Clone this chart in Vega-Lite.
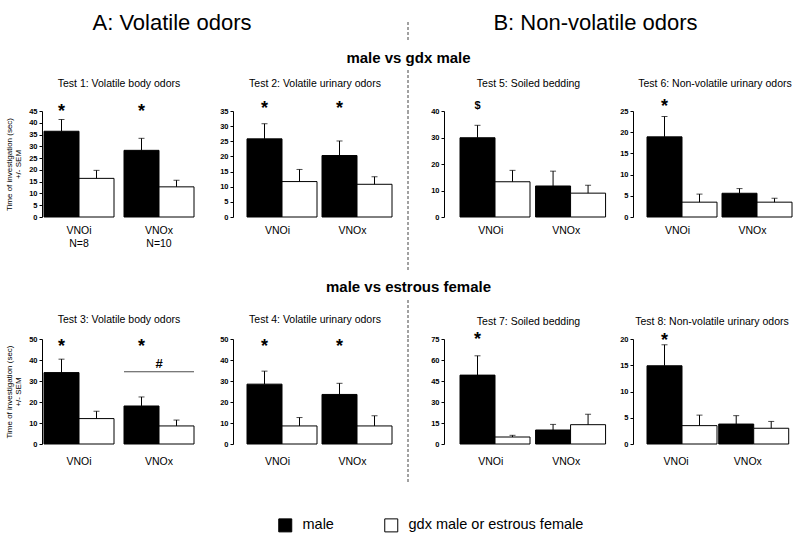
{
  "$schema": "https://vega.github.io/schema/vega-lite/v6.json",
  "background": "white",
  "padding": {"left": 5, "top": 12, "right": 4, "bottom": 0},
  "config": {
    "font": "Liberation Sans",
    "view": {"stroke": null},
    "axis": {"labelOverlap": false},
    "axisY": {"tickSize": 3, "labelFontSize": 7.5, "labelFontWeight": "bold", "labelOverlap": false, "grid": false, "domainColor": "black", "tickColor": "black", "labelColor": "black", "labelPadding": 2, "titleFontSize": 8, "titleFontWeight": "normal", "titleColor": "black", "titlePadding": 6, "titleLineHeight": 9},
    "axisX": {"domain": false, "ticks": false, "labelAngle": 0, "labelFontSize": 10.5, "labelColor": "black", "labelPadding": 8, "grid": false},
    "title": {"fontSize": 10.5, "fontWeight": "normal", "color": "black", "anchor": "middle", "frame": "group", "baseline": "alphabetic"},
    "legend": {"symbolType": "square", "symbolSize": 169, "labelFontSize": 14.5, "labelLimit": 0, "labelColor": "black", "symbolStrokeColor": "black", "symbolStrokeWidth": 1, "labelOffset": 10, "columnPadding": 48, "padding": 0}
  },
  "datasets": {
    "bars": [
      {"test": "Test 1", "group": "VNOi", "sex": "male", "mean": 36.4, "upper": 41.4},
      {"test": "Test 1", "group": "VNOi", "sex": "gdx male or estrous female", "mean": 16.4, "upper": 19.8},
      {"test": "Test 1", "group": "VNOx", "sex": "male", "mean": 28.3, "upper": 33.4},
      {"test": "Test 1", "group": "VNOx", "sex": "gdx male or estrous female", "mean": 12.8, "upper": 15.6},
      {"test": "Test 2", "group": "VNOi", "sex": "male", "mean": 25.8, "upper": 30.8},
      {"test": "Test 2", "group": "VNOi", "sex": "gdx male or estrous female", "mean": 11.7, "upper": 15.7},
      {"test": "Test 2", "group": "VNOx", "sex": "male", "mean": 20.3, "upper": 25.1},
      {"test": "Test 2", "group": "VNOx", "sex": "gdx male or estrous female", "mean": 10.8, "upper": 13.3},
      {"test": "Test 5", "group": "VNOi", "sex": "male", "mean": 29.9, "upper": 34.6},
      {"test": "Test 5", "group": "VNOi", "sex": "gdx male or estrous female", "mean": 13.3, "upper": 17.6},
      {"test": "Test 5", "group": "VNOx", "sex": "male", "mean": 11.7, "upper": 17.3},
      {"test": "Test 5", "group": "VNOx", "sex": "gdx male or estrous female", "mean": 9.0, "upper": 12.0},
      {"test": "Test 6", "group": "VNOi", "sex": "male", "mean": 18.9, "upper": 23.7},
      {"test": "Test 6", "group": "VNOi", "sex": "gdx male or estrous female", "mean": 3.5, "upper": 5.4},
      {"test": "Test 6", "group": "VNOx", "sex": "male", "mean": 5.6, "upper": 6.7},
      {"test": "Test 6", "group": "VNOx", "sex": "gdx male or estrous female", "mean": 3.5, "upper": 4.4},
      {"test": "Test 3", "group": "VNOi", "sex": "male", "mean": 34.0, "upper": 40.4},
      {"test": "Test 3", "group": "VNOi", "sex": "gdx male or estrous female", "mean": 12.1, "upper": 15.6},
      {"test": "Test 3", "group": "VNOx", "sex": "male", "mean": 18.1, "upper": 22.4},
      {"test": "Test 3", "group": "VNOx", "sex": "gdx male or estrous female", "mean": 8.6, "upper": 11.4},
      {"test": "Test 4", "group": "VNOi", "sex": "male", "mean": 28.5, "upper": 34.7},
      {"test": "Test 4", "group": "VNOi", "sex": "gdx male or estrous female", "mean": 8.6, "upper": 12.6},
      {"test": "Test 4", "group": "VNOx", "sex": "male", "mean": 23.6, "upper": 28.9},
      {"test": "Test 4", "group": "VNOx", "sex": "gdx male or estrous female", "mean": 8.6, "upper": 13.4},
      {"test": "Test 7", "group": "VNOi", "sex": "male", "mean": 49.2, "upper": 63.0},
      {"test": "Test 7", "group": "VNOi", "sex": "gdx male or estrous female", "mean": 5.0, "upper": 6.2},
      {"test": "Test 7", "group": "VNOx", "sex": "male", "mean": 10.0, "upper": 14.0},
      {"test": "Test 7", "group": "VNOx", "sex": "gdx male or estrous female", "mean": 13.8, "upper": 21.2},
      {"test": "Test 8", "group": "VNOi", "sex": "male", "mean": 14.9, "upper": 18.9},
      {"test": "Test 8", "group": "VNOi", "sex": "gdx male or estrous female", "mean": 3.5, "upper": 5.5},
      {"test": "Test 8", "group": "VNOx", "sex": "male", "mean": 3.8, "upper": 5.4},
      {"test": "Test 8", "group": "VNOx", "sex": "gdx male or estrous female", "mean": 3.0, "upper": 4.3}
    ],
    "marks": [
      {"test": "Test 1", "group": "VNOi", "sex": "male", "sym": "*", "pos": 46.4},
      {"test": "Test 1", "group": "VNOx", "sex": "male", "sym": "*", "pos": 46.4},
      {"test": "Test 2", "group": "VNOi", "sex": "male", "sym": "*", "pos": 36.9},
      {"test": "Test 2", "group": "VNOx", "sex": "male", "sym": "*", "pos": 36.9},
      {"test": "Test 5", "group": "VNOi", "sex": "male", "sym": "$", "pos": 41.8},
      {"test": "Test 6", "group": "VNOi", "sex": "male", "sym": "*", "pos": 27.0},
      {"test": "Test 3", "group": "VNOi", "sex": "male", "sym": "*", "pos": 48.3},
      {"test": "Test 3", "group": "VNOx", "sex": "male", "sym": "*", "pos": 48.3},
      {"test": "Test 4", "group": "VNOi", "sex": "male", "sym": "*", "pos": 48.3},
      {"test": "Test 4", "group": "VNOx", "sex": "male", "sym": "*", "pos": 48.3},
      {"test": "Test 7", "group": "VNOi", "sex": "male", "sym": "*", "pos": 77.4},
      {"test": "Test 8", "group": "VNOi", "sex": "male", "sym": "*", "pos": 20.4}
    ],
    "gmarks": [
      {"test": "Test 3", "group": "VNOx", "line": 34.4, "sym": "#", "pos": 37.9}
    ]
  },
  "bounds": "flush",
  "spacing": {"row": 0, "column": 0},
  "columns": 9,
  "concat": [
    {"width": 150, "height": 18, "data": {"values": [{"label": "A: Volatile odors"}]}, "mark": {"type": "text", "fontSize": 22, "baseline": "alphabetic", "dx": 53, "dy": -1, "color": "black"}, "encoding": {"text": {"field": "label"}}},
    {"width": 53, "height": 18, "data": {"values": []}, "mark": "text", "encoding": {}},
    {"width": 136, "height": 18, "data": {"values": []}, "mark": "text", "encoding": {}},
    {"width": 25, "height": 18, "data": {"values": []}, "mark": "text", "encoding": {}},
    {"width": 1, "height": 18, "data": {"values": [{}]}, "mark": {"type": "rule", "color": "#444444", "strokeDash": [3, 2], "strokeWidth": 1}, "encoding": {"x": {"value": 0}}},
    {"width": 51, "height": 18, "data": {"values": []}, "mark": "text", "encoding": {}},
    {"width": 137, "height": 18, "data": {"values": [{"label": "B: Non-volatile odors"}]}, "mark": {"type": "text", "fontSize": 22, "baseline": "alphabetic", "dx": 67, "dy": -1, "color": "black"}, "encoding": {"text": {"field": "label"}}},
    {"width": 50, "height": 18, "data": {"values": []}, "mark": "text", "encoding": {}},
    {"width": 136, "height": 18, "data": {"values": []}, "mark": "text", "encoding": {}},

    {"width": 150, "height": 30, "data": {"values": []}, "mark": "text", "encoding": {}},
    {"width": 53, "height": 30, "data": {"values": []}, "mark": "text", "encoding": {}},
    {"width": 136, "height": 30, "data": {"values": []}, "mark": "text", "encoding": {}},
    {"width": 25, "height": 30, "data": {"values": []}, "mark": "text", "encoding": {}},
    {"width": 1, "height": 30, "data": {"values": []}, "mark": "text", "encoding": {}},
    {"width": 51, "height": 30, "data": {"values": []}, "mark": "text", "encoding": {}},
    {"width": 137, "height": 30, "data": {"values": []}, "mark": "text", "encoding": {}},
    {"width": 50, "height": 30, "data": {"values": []}, "mark": "text", "encoding": {}},
    {"width": 136, "height": 30, "data": {"values": []}, "mark": "text", "encoding": {}},

    {"width": 150, "height": 41, "data": {"values": []}, "mark": "text", "encoding": {}},
    {"width": 53, "height": 41, "data": {"values": []}, "mark": "text", "encoding": {}},
    {"width": 136, "height": 41, "data": {"values": []}, "mark": "text", "encoding": {}},
    {"width": 25, "height": 41, "data": {"values": []}, "mark": "text", "encoding": {}},
    {"width": 1, "height": 41, "title": {"text": "male vs gdx male", "fontSize": 15, "fontWeight": "bold", "offset": 4}, "data": {"values": [{}]}, "mark": {"type": "rule", "color": "#444444", "strokeDash": [3, 2], "strokeWidth": 1}, "encoding": {"x": {"value": 0}}},
    {"width": 51, "height": 41, "data": {"values": []}, "mark": "text", "encoding": {}},
    {"width": 137, "height": 41, "data": {"values": []}, "mark": "text", "encoding": {}},
    {"width": 50, "height": 41, "data": {"values": []}, "mark": "text", "encoding": {}},
    {"width": 136, "height": 41, "data": {"values": []}, "mark": "text", "encoding": {}},

    {
      "width": 150, "height": 106,
      "title": {"text": "Test 1: Volatile body odors", "offset": 13},
      "data": {"name": "bars"},
      "transform": [{"filter": "datum.test == 'Test 1'"}],
      "encoding": {"x": {"field": "group", "type": "nominal", "title": null, "scale": {"domain": ["VNOi", "VNOx"], "paddingInner": 0.125, "paddingOuter": 0}, "axis": {"labelExpr": "datum.value == 'VNOi' ? ['VNOi', 'N=8'] : ['VNOx', 'N=10']", "labelLineHeight": 13}}},
      "layer": [
        {"mark": {"type": "bar", "stroke": "black", "strokeWidth": 1}, "encoding": {"xOffset": {"field": "sex", "type": "nominal", "scale": {"domain": ["male", "gdx male or estrous female"], "paddingInner": 0, "paddingOuter": 0}}, "y": {"field": "mean", "type": "quantitative", "scale": {"domain": [0, 45], "nice": false}, "axis": {"values": [0, 5, 10, 15, 20, 25, 30, 35, 40, 45], "labelOverlap": false, "offset": 2, "title": ["Time of investigation (sec)", "+/- SEM"]}}, "fill": {"field": "sex", "type": "nominal", "scale": {"domain": ["male", "gdx male or estrous female"], "range": ["black", "white"]}, "legend": {"orient": "none", "legendX": 234, "legendY": 496, "direction": "horizontal", "title": null}}}},
        {"mark": {"type": "rule", "color": "black", "strokeWidth": 1}, "encoding": {"xOffset": {"field": "sex", "type": "nominal"}, "y": {"field": "mean", "type": "quantitative", "axis": {"values": [0, 5, 10, 15, 20, 25, 30, 35, 40, 45], "labelOverlap": false, "offset": 2, "title": ["Time of investigation (sec)", "+/- SEM"]}}, "y2": {"field": "upper"}}},
        {"mark": {"type": "tick", "color": "black", "orient": "horizontal", "size": 6, "thickness": 1}, "encoding": {"xOffset": {"field": "sex", "type": "nominal"}, "y": {"field": "upper", "type": "quantitative", "axis": {"values": [0, 5, 10, 15, 20, 25, 30, 35, 40, 45], "labelOverlap": false, "offset": 2, "title": ["Time of investigation (sec)", "+/- SEM"]}}}},
        {"data": {"name": "marks"}, "transform": [{"filter": "datum.test == 'Test 1'"}], "mark": {"type": "text", "fontSize": 18, "fontWeight": "bold", "baseline": "middle", "dy": 4, "color": "black"}, "encoding": {"xOffset": {"field": "sex", "type": "nominal"}, "y": {"field": "pos", "type": "quantitative", "axis": {"values": [0, 5, 10, 15, 20, 25, 30, 35, 40, 45], "labelOverlap": false, "offset": 2, "title": ["Time of investigation (sec)", "+/- SEM"]}}, "text": {"field": "sym"}}}
      ]
    },
    {"width": 53, "height": 106, "data": {"values": []}, "mark": "text", "encoding": {}},
    {
      "width": 136, "height": 106,
      "title": {"text": "Test 2: Volatile urinary odors", "offset": 11},
      "data": {"name": "bars"},
      "transform": [{"filter": "datum.test == 'Test 2'"}],
      "encoding": {"x": {"field": "group", "type": "nominal", "title": null, "scale": {"domain": ["VNOi", "VNOx"], "paddingInner": 0.187, "paddingOuter": 0}}},
      "layer": [
        {"mark": {"type": "bar", "stroke": "black", "strokeWidth": 1}, "encoding": {"xOffset": {"field": "sex", "type": "nominal", "scale": {"domain": ["male", "gdx male or estrous female"], "paddingInner": 0, "paddingOuter": 0}}, "y": {"field": "mean", "type": "quantitative", "scale": {"domain": [0, 35], "nice": false}, "axis": {"values": [0, 5, 10, 15, 20, 25, 30, 35], "labelOverlap": false, "offset": 14, "title": null}}, "fill": {"field": "sex", "type": "nominal", "legend": null}}},
        {"mark": {"type": "rule", "color": "black", "strokeWidth": 1}, "encoding": {"xOffset": {"field": "sex", "type": "nominal"}, "y": {"field": "mean", "type": "quantitative", "axis": {"values": [0, 5, 10, 15, 20, 25, 30, 35], "labelOverlap": false, "offset": 14, "title": null}}, "y2": {"field": "upper"}}},
        {"mark": {"type": "tick", "color": "black", "orient": "horizontal", "size": 6, "thickness": 1}, "encoding": {"xOffset": {"field": "sex", "type": "nominal"}, "y": {"field": "upper", "type": "quantitative", "axis": {"values": [0, 5, 10, 15, 20, 25, 30, 35], "labelOverlap": false, "offset": 14, "title": null}}}},
        {"data": {"name": "marks"}, "transform": [{"filter": "datum.test == 'Test 2'"}], "mark": {"type": "text", "fontSize": 18, "fontWeight": "bold", "baseline": "middle", "dy": 4, "color": "black"}, "encoding": {"xOffset": {"field": "sex", "type": "nominal"}, "y": {"field": "pos", "type": "quantitative", "axis": {"values": [0, 5, 10, 15, 20, 25, 30, 35], "labelOverlap": false, "offset": 14, "title": null}}, "text": {"field": "sym"}}}
      ]
    },
    {"width": 25, "height": 106, "data": {"values": []}, "mark": "text", "encoding": {}},
    {"width": 1, "height": 106, "data": {"values": [{}]}, "mark": {"type": "rule", "color": "#444444", "strokeDash": [3, 2], "strokeWidth": 1}, "encoding": {"x": {"value": 0}}},
    {"width": 51, "height": 106, "data": {"values": []}, "mark": "text", "encoding": {}},
    {
      "width": 137, "height": 106,
      "title": {"text": "Test 5: Soiled bedding", "offset": 11},
      "data": {"name": "bars"},
      "transform": [{"filter": "datum.test == 'Test 5'"}],
      "encoding": {"x": {"field": "group", "type": "nominal", "title": null, "scale": {"domain": ["VNOi", "VNOx"], "paddingInner": 0.187, "paddingOuter": 0}}},
      "layer": [
        {"mark": {"type": "bar", "stroke": "black", "strokeWidth": 1}, "encoding": {"xOffset": {"field": "sex", "type": "nominal", "scale": {"domain": ["male", "gdx male or estrous female"], "paddingInner": 0, "paddingOuter": 0}}, "y": {"field": "mean", "type": "quantitative", "scale": {"domain": [0, 40], "nice": false}, "axis": {"values": [0, 10, 20, 30, 40], "labelOverlap": false, "offset": 16, "title": null}}, "fill": {"field": "sex", "type": "nominal", "legend": null}}},
        {"mark": {"type": "rule", "color": "black", "strokeWidth": 1}, "encoding": {"xOffset": {"field": "sex", "type": "nominal"}, "y": {"field": "mean", "type": "quantitative", "axis": {"values": [0, 10, 20, 30, 40], "labelOverlap": false, "offset": 16, "title": null}}, "y2": {"field": "upper"}}},
        {"mark": {"type": "tick", "color": "black", "orient": "horizontal", "size": 6, "thickness": 1}, "encoding": {"xOffset": {"field": "sex", "type": "nominal"}, "y": {"field": "upper", "type": "quantitative", "axis": {"values": [0, 10, 20, 30, 40], "labelOverlap": false, "offset": 16, "title": null}}}},
        {"data": {"name": "marks"}, "transform": [{"filter": "datum.test == 'Test 5'"}], "mark": {"type": "text", "fontSize": 11, "fontWeight": "bold", "baseline": "middle", "color": "black"}, "encoding": {"xOffset": {"field": "sex", "type": "nominal"}, "y": {"field": "pos", "type": "quantitative", "axis": {"values": [0, 10, 20, 30, 40], "labelOverlap": false, "offset": 16, "title": null}}, "text": {"field": "sym"}}}
      ]
    },
    {"width": 50, "height": 106, "data": {"values": []}, "mark": "text", "encoding": {}},
    {
      "width": 136, "height": 106,
      "title": {"text": "Test 6: Non-volatile urinary odors", "offset": 8},
      "data": {"name": "bars"},
      "transform": [{"filter": "datum.test == 'Test 6'"}],
      "encoding": {"x": {"field": "group", "type": "nominal", "title": null, "scale": {"domain": ["VNOi", "VNOx"], "paddingInner": 0.187, "paddingOuter": 0}}},
      "layer": [
        {"mark": {"type": "bar", "stroke": "black", "strokeWidth": 1}, "encoding": {"xOffset": {"field": "sex", "type": "nominal", "scale": {"domain": ["male", "gdx male or estrous female"], "paddingInner": 0, "paddingOuter": 0}}, "y": {"field": "mean", "type": "quantitative", "scale": {"domain": [0, 25], "nice": false}, "axis": {"values": [0, 5, 10, 15, 20, 25], "labelOverlap": false, "offset": 14, "title": null}}, "fill": {"field": "sex", "type": "nominal", "legend": null}}},
        {"mark": {"type": "rule", "color": "black", "strokeWidth": 1}, "encoding": {"xOffset": {"field": "sex", "type": "nominal"}, "y": {"field": "mean", "type": "quantitative", "axis": {"values": [0, 5, 10, 15, 20, 25], "labelOverlap": false, "offset": 14, "title": null}}, "y2": {"field": "upper"}}},
        {"mark": {"type": "tick", "color": "black", "orient": "horizontal", "size": 6, "thickness": 1}, "encoding": {"xOffset": {"field": "sex", "type": "nominal"}, "y": {"field": "upper", "type": "quantitative", "axis": {"values": [0, 5, 10, 15, 20, 25], "labelOverlap": false, "offset": 14, "title": null}}}},
        {"data": {"name": "marks"}, "transform": [{"filter": "datum.test == 'Test 6'"}], "mark": {"type": "text", "fontSize": 18, "fontWeight": "bold", "baseline": "middle", "dy": 4, "color": "black"}, "encoding": {"xOffset": {"field": "sex", "type": "nominal"}, "y": {"field": "pos", "type": "quantitative", "axis": {"values": [0, 5, 10, 15, 20, 25], "labelOverlap": false, "offset": 14, "title": null}}, "text": {"field": "sym"}}}
      ]
    },

    {"width": 150, "height": 53, "data": {"values": []}, "mark": "text", "encoding": {}},
    {"width": 53, "height": 53, "data": {"values": []}, "mark": "text", "encoding": {}},
    {"width": 136, "height": 53, "data": {"values": []}, "mark": "text", "encoding": {}},
    {"width": 25, "height": 53, "data": {"values": []}, "mark": "text", "encoding": {}},
    {"width": 1, "height": 53, "data": {"values": [{}]}, "mark": {"type": "rule", "color": "#444444", "strokeDash": [3, 2], "strokeWidth": 1}, "encoding": {"x": {"value": 0}}},
    {"width": 51, "height": 53, "data": {"values": []}, "mark": "text", "encoding": {}},
    {"width": 137, "height": 53, "data": {"values": []}, "mark": "text", "encoding": {}},
    {"width": 50, "height": 53, "data": {"values": []}, "mark": "text", "encoding": {}},
    {"width": 136, "height": 53, "data": {"values": []}, "mark": "text", "encoding": {}},

    {"width": 150, "height": 30, "data": {"values": []}, "mark": "text", "encoding": {}},
    {"width": 53, "height": 30, "data": {"values": []}, "mark": "text", "encoding": {}},
    {"width": 136, "height": 30, "data": {"values": []}, "mark": "text", "encoding": {}},
    {"width": 25, "height": 30, "data": {"values": []}, "mark": "text", "encoding": {}},
    {"width": 1, "height": 30, "data": {"values": []}, "mark": "text", "encoding": {}},
    {"width": 51, "height": 30, "data": {"values": []}, "mark": "text", "encoding": {}},
    {"width": 137, "height": 30, "data": {"values": []}, "mark": "text", "encoding": {}},
    {"width": 50, "height": 30, "data": {"values": []}, "mark": "text", "encoding": {}},
    {"width": 136, "height": 30, "data": {"values": []}, "mark": "text", "encoding": {}},

    {"width": 150, "height": 39, "data": {"values": []}, "mark": "text", "encoding": {}},
    {"width": 53, "height": 39, "data": {"values": []}, "mark": "text", "encoding": {}},
    {"width": 136, "height": 39, "data": {"values": []}, "mark": "text", "encoding": {}},
    {"width": 25, "height": 39, "data": {"values": []}, "mark": "text", "encoding": {}},
    {"width": 1, "height": 39, "title": {"text": "male vs estrous female", "fontSize": 15, "fontWeight": "bold", "offset": 5}, "data": {"values": [{}]}, "mark": {"type": "rule", "color": "#444444", "strokeDash": [3, 2], "strokeWidth": 1}, "encoding": {"x": {"value": 0}}},
    {"width": 51, "height": 39, "data": {"values": []}, "mark": "text", "encoding": {}},
    {"width": 137, "height": 39, "data": {"values": []}, "mark": "text", "encoding": {}},
    {"width": 50, "height": 39, "data": {"values": []}, "mark": "text", "encoding": {}},
    {"width": 136, "height": 39, "data": {"values": []}, "mark": "text", "encoding": {}},

    {
      "width": 150, "height": 105,
      "title": {"text": "Test 3: Volatile body odors", "offset": 10},
      "data": {"name": "bars"},
      "transform": [{"filter": "datum.test == 'Test 3'"}],
      "encoding": {"x": {"field": "group", "type": "nominal", "title": null, "scale": {"domain": ["VNOi", "VNOx"], "paddingInner": 0.125, "paddingOuter": 0}, "axis": {"labelPadding": 12}}},
      "layer": [
        {"mark": {"type": "bar", "stroke": "black", "strokeWidth": 1}, "encoding": {"xOffset": {"field": "sex", "type": "nominal", "scale": {"domain": ["male", "gdx male or estrous female"], "paddingInner": 0, "paddingOuter": 0}}, "y": {"field": "mean", "type": "quantitative", "scale": {"domain": [0, 50], "nice": false}, "axis": {"values": [0, 10, 20, 30, 40, 50], "labelOverlap": false, "offset": 2, "title": ["Time of investigation (sec)", "+/- SEM"]}}, "fill": {"field": "sex", "type": "nominal", "legend": null}}},
        {"mark": {"type": "rule", "color": "black", "strokeWidth": 1}, "encoding": {"xOffset": {"field": "sex", "type": "nominal"}, "y": {"field": "mean", "type": "quantitative", "axis": {"values": [0, 10, 20, 30, 40, 50], "labelOverlap": false, "offset": 2, "title": ["Time of investigation (sec)", "+/- SEM"]}}, "y2": {"field": "upper"}}},
        {"mark": {"type": "tick", "color": "black", "orient": "horizontal", "size": 6, "thickness": 1}, "encoding": {"xOffset": {"field": "sex", "type": "nominal"}, "y": {"field": "upper", "type": "quantitative", "axis": {"values": [0, 10, 20, 30, 40, 50], "labelOverlap": false, "offset": 2, "title": ["Time of investigation (sec)", "+/- SEM"]}}}},
        {"data": {"name": "marks"}, "transform": [{"filter": "datum.test == 'Test 3'"}], "mark": {"type": "text", "fontSize": 18, "fontWeight": "bold", "baseline": "middle", "dy": 4, "color": "black"}, "encoding": {"xOffset": {"field": "sex", "type": "nominal"}, "y": {"field": "pos", "type": "quantitative", "axis": {"values": [0, 10, 20, 30, 40, 50], "labelOverlap": false, "offset": 2, "title": ["Time of investigation (sec)", "+/- SEM"]}}, "text": {"field": "sym"}}},
        {"data": {"name": "gmarks"}, "transform": [{"filter": "datum.test == 'Test 3'"}], "mark": {"type": "tick", "color": "black", "orient": "horizontal", "size": 70, "thickness": 1}, "encoding": {"y": {"field": "line", "type": "quantitative", "axis": {"values": [0, 10, 20, 30, 40, 50], "labelOverlap": false, "offset": 2, "title": ["Time of investigation (sec)", "+/- SEM"]}}}},
        {"data": {"name": "gmarks"}, "transform": [{"filter": "datum.test == 'Test 3'"}], "mark": {"type": "text", "fontSize": 13, "fontWeight": "bold", "baseline": "middle", "color": "black"}, "encoding": {"y": {"field": "pos", "type": "quantitative", "axis": {"values": [0, 10, 20, 30, 40, 50], "labelOverlap": false, "offset": 2, "title": ["Time of investigation (sec)", "+/- SEM"]}}, "text": {"field": "sym"}}}
      ]
    },
    {"width": 53, "height": 105, "data": {"values": []}, "mark": "text", "encoding": {}},
    {
      "width": 136, "height": 105,
      "title": {"text": "Test 4: Volatile urinary odors", "offset": 10},
      "data": {"name": "bars"},
      "transform": [{"filter": "datum.test == 'Test 4'"}],
      "encoding": {"x": {"field": "group", "type": "nominal", "title": null, "scale": {"domain": ["VNOi", "VNOx"], "paddingInner": 0.187, "paddingOuter": 0}, "axis": {"labelPadding": 12}}},
      "layer": [
        {"mark": {"type": "bar", "stroke": "black", "strokeWidth": 1}, "encoding": {"xOffset": {"field": "sex", "type": "nominal", "scale": {"domain": ["male", "gdx male or estrous female"], "paddingInner": 0, "paddingOuter": 0}}, "y": {"field": "mean", "type": "quantitative", "scale": {"domain": [0, 50], "nice": false}, "axis": {"values": [0, 10, 20, 30, 40, 50], "labelOverlap": false, "offset": 14, "title": null}}, "fill": {"field": "sex", "type": "nominal", "legend": null}}},
        {"mark": {"type": "rule", "color": "black", "strokeWidth": 1}, "encoding": {"xOffset": {"field": "sex", "type": "nominal"}, "y": {"field": "mean", "type": "quantitative", "axis": {"values": [0, 10, 20, 30, 40, 50], "labelOverlap": false, "offset": 14, "title": null}}, "y2": {"field": "upper"}}},
        {"mark": {"type": "tick", "color": "black", "orient": "horizontal", "size": 6, "thickness": 1}, "encoding": {"xOffset": {"field": "sex", "type": "nominal"}, "y": {"field": "upper", "type": "quantitative", "axis": {"values": [0, 10, 20, 30, 40, 50], "labelOverlap": false, "offset": 14, "title": null}}}},
        {"data": {"name": "marks"}, "transform": [{"filter": "datum.test == 'Test 4'"}], "mark": {"type": "text", "fontSize": 18, "fontWeight": "bold", "baseline": "middle", "dy": 4, "color": "black"}, "encoding": {"xOffset": {"field": "sex", "type": "nominal"}, "y": {"field": "pos", "type": "quantitative", "axis": {"values": [0, 10, 20, 30, 40, 50], "labelOverlap": false, "offset": 14, "title": null}}, "text": {"field": "sym"}}}
      ]
    },
    {"width": 25, "height": 105, "data": {"values": []}, "mark": "text", "encoding": {}},
    {"width": 1, "height": 105, "data": {"values": [{}]}, "mark": {"type": "rule", "color": "#444444", "strokeDash": [3, 2], "strokeWidth": 1}, "encoding": {"x": {"value": 0}}},
    {"width": 51, "height": 105, "data": {"values": []}, "mark": "text", "encoding": {}},
    {
      "width": 137, "height": 105,
      "title": {"text": "Test 7: Soiled bedding", "offset": 3},
      "data": {"name": "bars"},
      "transform": [{"filter": "datum.test == 'Test 7'"}],
      "encoding": {"x": {"field": "group", "type": "nominal", "title": null, "scale": {"domain": ["VNOi", "VNOx"], "paddingInner": 0.187, "paddingOuter": 0}, "axis": {"labelPadding": 12}}},
      "layer": [
        {"mark": {"type": "bar", "stroke": "black", "strokeWidth": 1}, "encoding": {"xOffset": {"field": "sex", "type": "nominal", "scale": {"domain": ["male", "gdx male or estrous female"], "paddingInner": 0, "paddingOuter": 0}}, "y": {"field": "mean", "type": "quantitative", "scale": {"domain": [0, 75], "nice": false}, "axis": {"values": [0, 15, 30, 45, 60, 75], "labelOverlap": false, "offset": 16, "title": null}}, "fill": {"field": "sex", "type": "nominal", "legend": null}}},
        {"mark": {"type": "rule", "color": "black", "strokeWidth": 1}, "encoding": {"xOffset": {"field": "sex", "type": "nominal"}, "y": {"field": "mean", "type": "quantitative", "axis": {"values": [0, 15, 30, 45, 60, 75], "labelOverlap": false, "offset": 16, "title": null}}, "y2": {"field": "upper"}}},
        {"mark": {"type": "tick", "color": "black", "orient": "horizontal", "size": 6, "thickness": 1}, "encoding": {"xOffset": {"field": "sex", "type": "nominal"}, "y": {"field": "upper", "type": "quantitative", "axis": {"values": [0, 15, 30, 45, 60, 75], "labelOverlap": false, "offset": 16, "title": null}}}},
        {"data": {"name": "marks"}, "transform": [{"filter": "datum.test == 'Test 7'"}], "mark": {"type": "text", "fontSize": 18, "fontWeight": "bold", "baseline": "middle", "dy": 4, "color": "black"}, "encoding": {"xOffset": {"field": "sex", "type": "nominal"}, "y": {"field": "pos", "type": "quantitative", "axis": {"values": [0, 15, 30, 45, 60, 75], "labelOverlap": false, "offset": 16, "title": null}}, "text": {"field": "sym"}}}
      ]
    },
    {"width": 50, "height": 105, "data": {"values": []}, "mark": "text", "encoding": {}},
    {
      "width": 130, "height": 105,
      "title": {"text": "Test 8: Non-volatile urinary odors", "offset": 4},
      "data": {"name": "bars"},
      "transform": [{"filter": "datum.test == 'Test 8'"}],
      "encoding": {"x": {"field": "group", "type": "nominal", "title": null, "scale": {"domain": ["VNOi", "VNOx"], "paddingInner": 0.187, "paddingOuter": 0}, "axis": {"labelPadding": 12}}},
      "layer": [
        {"mark": {"type": "bar", "stroke": "black", "strokeWidth": 1}, "encoding": {"xOffset": {"field": "sex", "type": "nominal", "scale": {"domain": ["male", "gdx male or estrous female"], "paddingInner": 0, "paddingOuter": 0}}, "y": {"field": "mean", "type": "quantitative", "scale": {"domain": [0, 20], "nice": false}, "axis": {"values": [0, 5, 10, 15, 20], "labelOverlap": false, "offset": 14, "title": null}}, "fill": {"field": "sex", "type": "nominal", "legend": null}}},
        {"mark": {"type": "rule", "color": "black", "strokeWidth": 1}, "encoding": {"xOffset": {"field": "sex", "type": "nominal"}, "y": {"field": "mean", "type": "quantitative", "axis": {"values": [0, 5, 10, 15, 20], "labelOverlap": false, "offset": 14, "title": null}}, "y2": {"field": "upper"}}},
        {"mark": {"type": "tick", "color": "black", "orient": "horizontal", "size": 6, "thickness": 1}, "encoding": {"xOffset": {"field": "sex", "type": "nominal"}, "y": {"field": "upper", "type": "quantitative", "axis": {"values": [0, 5, 10, 15, 20], "labelOverlap": false, "offset": 14, "title": null}}}},
        {"data": {"name": "marks"}, "transform": [{"filter": "datum.test == 'Test 8'"}], "mark": {"type": "text", "fontSize": 18, "fontWeight": "bold", "baseline": "middle", "dy": 4, "color": "black"}, "encoding": {"xOffset": {"field": "sex", "type": "nominal"}, "y": {"field": "pos", "type": "quantitative", "axis": {"values": [0, 5, 10, 15, 20], "labelOverlap": false, "offset": 14, "title": null}}, "text": {"field": "sym"}}}
      ]
    },

    {"width": 150, "height": 39, "data": {"values": []}, "mark": "text", "encoding": {}},
    {"width": 53, "height": 39, "data": {"values": []}, "mark": "text", "encoding": {}},
    {"width": 136, "height": 39, "data": {"values": []}, "mark": "text", "encoding": {}},
    {"width": 25, "height": 39, "data": {"values": []}, "mark": "text", "encoding": {}},
    {"width": 1, "height": 39, "data": {"values": [{}]}, "mark": {"type": "rule", "color": "#444444", "strokeDash": [3, 2], "strokeWidth": 1}, "encoding": {"x": {"value": 0}}},
    {"width": 51, "height": 39, "data": {"values": []}, "mark": "text", "encoding": {}},
    {"width": 137, "height": 39, "data": {"values": []}, "mark": "text", "encoding": {}},
    {"width": 50, "height": 39, "data": {"values": []}, "mark": "text", "encoding": {}},
    {"width": 136, "height": 39, "data": {"values": []}, "mark": "text", "encoding": {}}
  ]
}
